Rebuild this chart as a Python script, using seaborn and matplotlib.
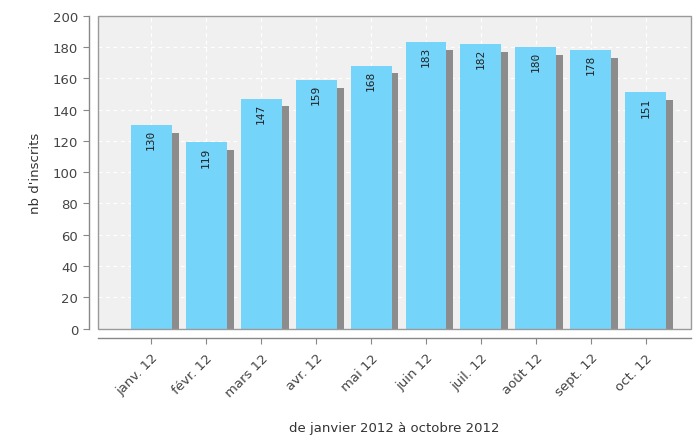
import matplotlib
matplotlib.use("Agg")
import matplotlib.pyplot as plt
import seaborn as sns
import numpy as np
import pandas as pd

categories = ["janv. 12", "févr. 12", "mars 12", "avr. 12", "mai 12",
              "juin 12", "juil. 12", "août 12", "sept. 12", "oct. 12"]
values = [130, 119, 147, 159, 168, 183, 182, 180, 178, 151]
yticks = [0, 20, 40, 60, 80, 100, 120, 140, 160, 180, 200]

sns.set_theme(style="white")
plt.rcParams['font.family'] = ['DejaVu Sans']

df = pd.DataFrame({"mois": categories, "n": values})

fig = plt.figure(figsize=(6.93, 4.39), dpi=100)
ax = fig.add_axes([0.142, 0.249, 0.855, 0.713])
ax.set_facecolor("#f0f0f0")

bar_w = 0.745
dx = 0.127
depth = 4.9

x = np.arange(len(values))
ax.bar(x + dx, np.array(values) - depth, width=bar_w, color="#8c8c8c",
       zorder=2, linewidth=0)

sns.barplot(data=df, x="mois", y="n", color="#75d4fa", saturation=1,
            width=bar_w, ax=ax, zorder=3, linewidth=0)

for i, v in enumerate(values):
    ax.text(i, v - 2.5, str(v), rotation=90, ha="center", va="top",
            fontsize=8, color="#222222", family="DejaVu Sans Mono", zorder=4)

for s in ["top", "right"]:
    ax.spines[s].set_visible(False)
for s in ["left", "bottom"]:
    ax.spines[s].set_position(("outward", 7))
    ax.spines[s].set_color("#888888")
    ax.spines[s].set_linewidth(1.0)

ax.set_xlim(-0.96, 9.82)
ax.set_ylim(0, 200)
ax.set_yticks(yticks)
ax.set_xticks(x)
ax.set_xticklabels(categories)
ax.tick_params(axis="both", which="both", direction="out", length=4,
               width=0.8, color="#888888", left=True, bottom=True)
ax.tick_params(axis="y", labelsize=9.5, labelcolor="#444444")
ax.tick_params(axis="x", labelsize=9.5, labelcolor="#444444", pad=5)
for lab in ax.get_xticklabels():
    lab.set_rotation(45)
    lab.set_ha("right")
    lab.set_rotation_mode("anchor")

ax.grid(True, color="white", linestyle=(0, (3, 3)), linewidth=0.9, zorder=1)
ax.set_axisbelow(True)

# plot-area frame
ax.add_patch(plt.Rectangle((0, 0), 1, 1, transform=ax.transAxes, fill=False,
                           edgecolor="#9a9a9a", linewidth=1.0, zorder=5,
                           clip_on=False))

ax.set_xlabel("de janvier 2012 à octobre 2012", fontsize=9.5, color="#333333",
              labelpad=16)
ax.set_ylabel("nb d'inscrits", fontsize=9.5, color="#333333", labelpad=8)

fig.savefig("out.png", dpi=100)
